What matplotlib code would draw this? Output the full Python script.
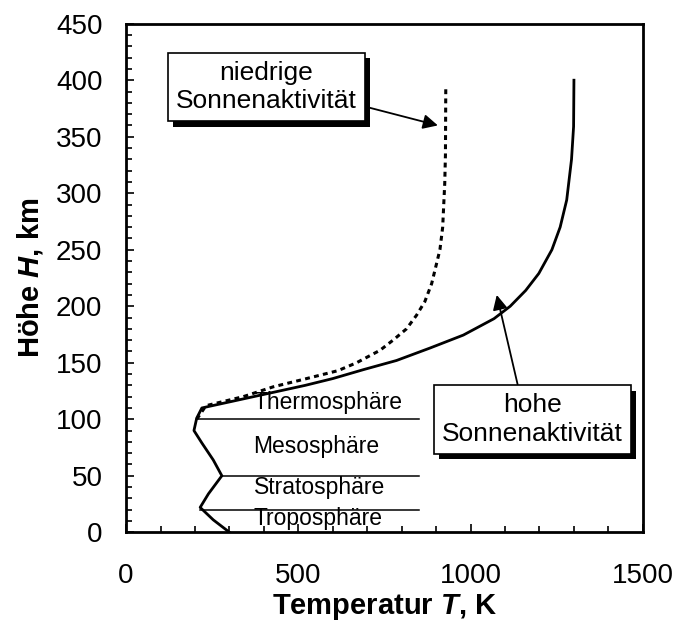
import matplotlib
matplotlib.use('Agg')
import matplotlib.pyplot as plt
import matplotlib.patheffects as pe
from matplotlib.ticker import MultipleLocator

plt.rcParams['font.family'] = ['Liberation Sans', 'DejaVu Sans']
plt.rcParams['mathtext.fontset'] = 'custom'
plt.rcParams['mathtext.it'] = 'Liberation Sans:bold:italic'
plt.rcParams['mathtext.rm'] = 'Liberation Sans:bold'

# high solar activity (solid)
h_high = [0, 11, 22, 34, 50, 64, 79, 90, 101, 110, 117, 124, 130, 136, 144, 152, 163,
          174.5, 189, 200, 214, 229, 250, 270, 294, 330, 359, 400]
t_high = [300, 253, 215, 239, 278, 253, 220, 197, 205, 220, 325, 430, 520, 600, 690, 785, 882,
          979, 1068, 1115, 1160, 1198, 1236, 1260, 1279, 1293, 1299, 1300]

# low solar activity (dashed)
h_low = [100, 112, 120, 128.7, 136, 143, 150, 161, 170, 180, 192, 204, 220, 250, 270,
         309, 334, 394]
t_low = [205, 232, 340, 427, 524, 615, 669, 737, 775, 814, 843, 867, 887, 911, 919,
         925, 927, 928]

# atmospheric layers
layer_names = ['Thermosphäre', 'Mesosphäre', 'Stratosphäre', 'Troposphäre']
layer_label_h = [115, 76, 40, 12]
bound_h = [100, 50, 20]
bound_t0 = [205, 278, 215]
bound_t1 = 850

fig = plt.figure(figsize=(6.89, 6.24), dpi=100)
ax = fig.add_axes([0.183, 0.147, 0.750, 0.815])

ax.plot(t_high, h_high, color='black', lw=2.0, solid_joinstyle='round')
ax.plot(t_low, h_low, color='black', lw=2.2, linestyle=(0, (1.6, 1.4)))

for h, t0 in zip(bound_h, bound_t0):
    ax.plot([t0, bound_t1], [h, h], color='black', lw=1.1)
for name, h in zip(layer_names, layer_label_h):
    ax.text(370, h, name, fontsize=16.5, ha='left', va='center')

shadow = [pe.withSimplePatchShadow(offset=(4, -4), shadow_rgbFace='black', alpha=1.0)]
box = dict(boxstyle='square,pad=0.3', fc='white', ec='black', lw=1.2)

a1 = ax.annotate('niedrige\nSonnenaktivität', xy=(905, 360), xytext=(407, 394),
                 fontsize=19, ha='center', va='center', linespacing=1.25, bbox=box,
                 arrowprops=dict(arrowstyle='-|>', color='black', lw=1.3,
                                 mutation_scale=22, shrinkA=0, shrinkB=0,
                                 relpos=(1.0, 0.17)))
a1.get_bbox_patch().set_path_effects(shadow)

a2 = ax.annotate('hohe\nSonnenaktivität', xy=(1076, 210), xytext=(1179, 100),
                 fontsize=19, ha='center', va='center', linespacing=1.25, bbox=box,
                 arrowprops=dict(arrowstyle='-|>', color='black', lw=1.3,
                                 mutation_scale=22, shrinkA=0, shrinkB=0,
                                 relpos=(0.43, 1.0)))
a2.get_bbox_patch().set_path_effects(shadow)

ax.set_xlim(0, 1500)
ax.set_ylim(0, 450)
ax.xaxis.set_major_locator(MultipleLocator(500))
ax.xaxis.set_minor_locator(MultipleLocator(100))
ax.yaxis.set_major_locator(MultipleLocator(50))
ax.yaxis.set_minor_locator(MultipleLocator(10))
ax.tick_params(which='both', direction='in', top=False, right=False, width=1.2)
ax.tick_params(which='major', length=6, labelsize=20)
ax.tick_params(which='minor', length=4)
ax.tick_params(axis='x', which='major', pad=22)
ax.tick_params(axis='y', which='major', pad=17)
for s in ax.spines.values():
    s.set_linewidth(2)

ax.set_xlabel(r'Temperatur $\mathit{T}$, K', fontsize=21, fontweight='bold', labelpad=2)
ax.set_ylabel(r'Höhe $\mathit{H}$, km', fontsize=21, fontweight='bold', labelpad=8)

fig.savefig('out.png', dpi=100)
